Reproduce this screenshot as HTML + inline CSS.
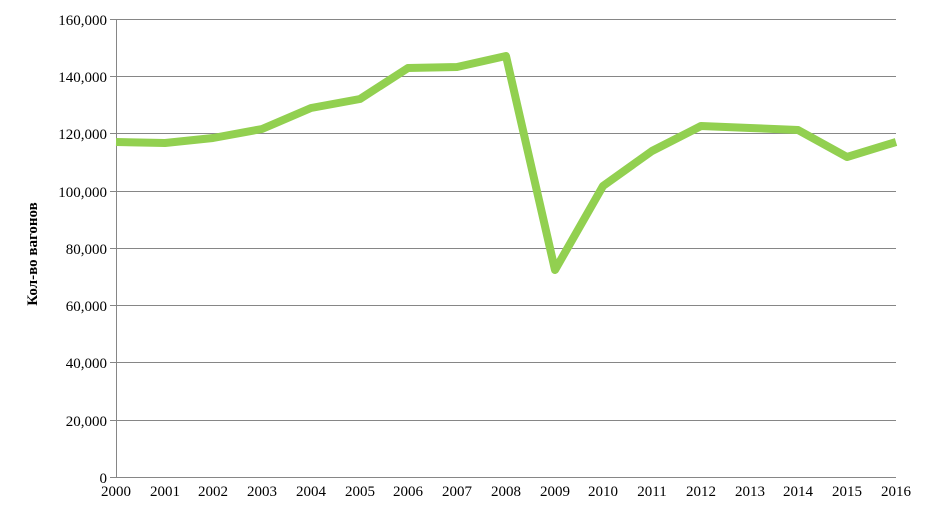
<!DOCTYPE html>
<html><head><meta charset="utf-8"><style>body{margin:0;background:#fff}svg{display:block}</style></head>
<body>
<svg width="939" height="509" xmlns="http://www.w3.org/2000/svg" font-family="Liberation Serif, serif" font-size="15">
<g stroke="#868686" stroke-width="1">
<line x1="110" y1="19.5" x2="896" y2="19.5"/>
<line x1="110" y1="76.5" x2="896" y2="76.5"/>
<line x1="110" y1="133.5" x2="896" y2="133.5"/>
<line x1="110" y1="191.5" x2="896" y2="191.5"/>
<line x1="110" y1="248.5" x2="896" y2="248.5"/>
<line x1="110" y1="305.5" x2="896" y2="305.5"/>
<line x1="110" y1="362.5" x2="896" y2="362.5"/>
<line x1="110" y1="420.5" x2="896" y2="420.5"/>
<line x1="110" y1="477.5" x2="896" y2="477.5"/>
<line x1="116.5" y1="19" x2="116.5" y2="478"/>
</g>
<g text-anchor="end" fill="#000">
<text x="107" y="25">160,000</text>
<text x="107" y="82">140,000</text>
<text x="107" y="139">120,000</text>
<text x="107" y="197">100,000</text>
<text x="107" y="254">80,000</text>
<text x="107" y="311">60,000</text>
<text x="107" y="368">40,000</text>
<text x="107" y="426">20,000</text>
<text x="107" y="483">0</text>
</g>
<g text-anchor="middle" fill="#000">
<text x="116" y="496">2000</text><text x="165" y="496">2001</text><text x="213" y="496">2002</text><text x="262" y="496">2003</text><text x="311" y="496">2004</text><text x="360" y="496">2005</text><text x="408" y="496">2006</text><text x="457" y="496">2007</text><text x="506" y="496">2008</text><text x="555" y="496">2009</text><text x="603" y="496">2010</text><text x="652" y="496">2011</text><text x="701" y="496">2012</text><text x="750" y="496">2013</text><text x="798" y="496">2014</text><text x="847" y="496">2015</text><text x="896" y="496">2016</text>
</g>
<text transform="translate(37,254) rotate(-90)" text-anchor="middle" font-weight="bold">Кол-во вагонов</text>
<polyline fill="none" stroke="#92d050" stroke-width="8" stroke-linejoin="round" points="116,142 165,143 213,138 262,129 311,108 360,99 408,68 457,67 506,56 555,270 603,186 652,151 701,126 750,128 798,130 847,157 896,142"/>
</svg>
</body></html>
